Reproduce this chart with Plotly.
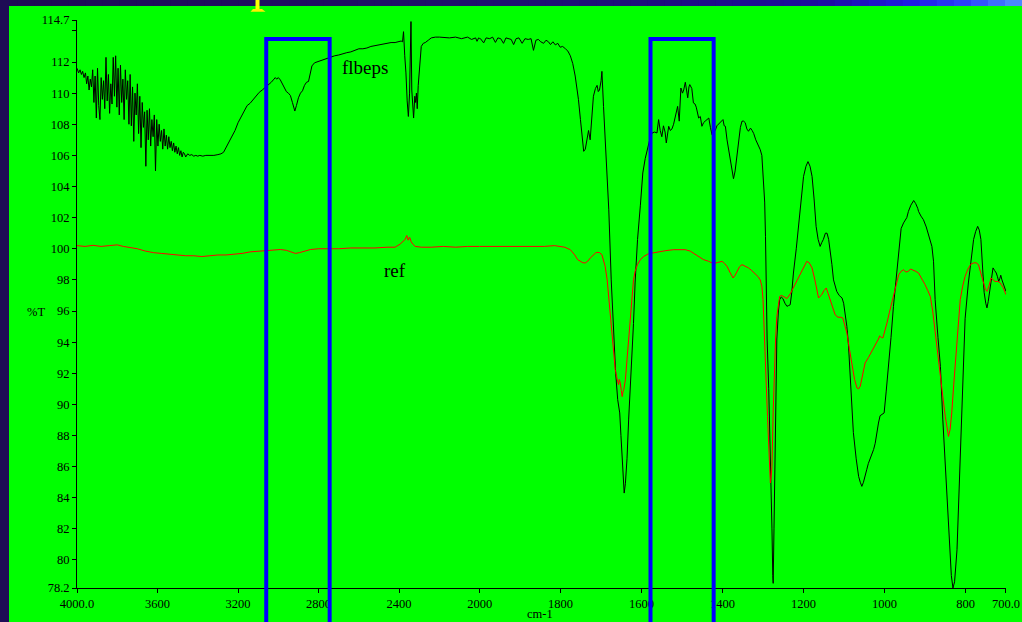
import numpy as np
import plotly.graph_objects as go

# ---------------- data ----------------
# flbeps spectrum, %T vs wavenumber (cm-1)
flbeps_wn_a = [4000, 3992, 3985, 3978, 3972, 3965, 3958, 3952, 3946, 3940,
               3934, 3928, 3922, 3916, 3910, 3904, 3898, 3892, 3886, 3880,
               3874, 3868, 3862, 3856, 3850, 3844, 3838, 3832, 3826, 3820,
               3814, 3808, 3802, 3796, 3790, 3784, 3778, 3772, 3766, 3760,
               3754, 3748, 3742, 3736, 3730, 3724, 3718, 3712, 3706, 3700,
               3694, 3688, 3682, 3676, 3670, 3664, 3658, 3652, 3646, 3640,
               3634, 3628, 3622, 3616, 3610, 3604, 3598, 3592, 3586, 3580,
               3574, 3568, 3562, 3556, 3550, 3544, 3538, 3532, 3526, 3520,
               3514, 3508, 3502, 3496, 3490, 3484, 3478, 3472, 3466, 3460]
flbeps_t_a = [111.6, 111.3, 111.5, 111.2, 111.4, 111.0, 111.3, 110.6, 111.1, 110.2,
              110.9, 110.4, 111.5, 109.4, 111.1, 108.4, 111.6, 109.2, 108.3, 111.0,
              109.6, 110.8, 109.0, 112.3, 109.5, 111.2, 108.7, 110.6, 109.3, 112.3,
              109.8, 112.4, 109.1, 111.6, 108.6, 111.8, 109.4, 110.9, 108.3, 111.5,
              109.6, 110.8, 108.0, 111.2, 107.9, 110.4, 106.9, 110.0, 108.6, 110.6,
              107.4, 109.8, 106.5, 109.4, 107.8, 108.8, 105.3, 108.9, 107.0, 109.0,
              106.6, 108.3, 107.2, 108.6, 105.0, 108.3, 106.6, 108.0, 106.9, 107.6,
              106.4, 107.7, 106.6, 107.3, 106.4, 107.2, 106.5, 106.9, 106.3, 106.8,
              106.2, 106.6, 106.1, 106.5, 106.0, 106.3, 105.9, 106.2, 106.1, 105.9]

flbeps_wn_b = [3450, 3440, 3430, 3420, 3410, 3400, 3390, 3375, 3360, 3340,
               3320, 3300, 3285, 3272, 3260, 3245, 3230, 3215, 3200, 3185,
               3170, 3155, 3140, 3125, 3110, 3095, 3080, 3065, 3050, 3035,
               3025, 3015, 3008, 3000, 2990, 2980, 2970, 2960, 2950, 2940,
               2930, 2918, 2910, 2900, 2890, 2880, 2870, 2860, 2850, 2842,
               2833, 2820, 2800, 2780, 2760, 2742, 2720, 2700, 2680, 2660,
               2640, 2620, 2600, 2580, 2560, 2540, 2520, 2500, 2480, 2460,
               2440, 2420, 2400, 2390, 2383, 2378, 2372, 2366, 2360, 2354,
               2348, 2344, 2341, 2337, 2333, 2328, 2322, 2318, 2314, 2310,
               2305, 2298, 2290, 2280, 2270, 2255, 2240, 2220]
flbeps_t_b = [106.1, 106.0, 106.05, 105.95, 106.0, 105.95, 106.0, 105.95, 106.0, 106.0,
              106.0, 106.05, 106.1, 106.2, 106.5, 106.9, 107.2, 107.6, 108.1, 108.5,
              108.9, 109.2, 109.35, 109.6, 109.85, 110.05, 110.2, 110.35, 110.55, 110.7,
              110.85, 111.0, 110.9, 111.0, 110.85, 110.6, 110.35, 110.1, 110.0, 109.85,
              109.4, 108.85, 109.2, 109.7, 110.0, 110.15, 110.5, 110.7, 110.75, 111.3,
              111.75, 111.95, 112.05, 112.15, 112.25, 112.3, 112.4, 112.45, 112.55, 112.6,
              112.65, 112.75, 112.85, 112.85, 112.9, 113.0, 113.05, 113.1, 113.15, 113.2,
              113.25, 113.25, 113.3, 113.35, 113.3, 113.95, 112.4, 111.3, 109.5, 108.5,
              110.0, 112.5, 114.6, 110.2, 109.4, 108.4, 109.8, 109.4, 110.0, 109.0,
              110.5, 112.0, 113.0, 113.2, 113.25, 113.4, 113.55, 113.6]

flbeps_wn_c = [2200, 2150, 2120, 2090, 2060, 2040, 2020, 2013, 2005, 1998,
               1990, 1984, 1975, 1968, 1961, 1955, 1948, 1941, 1935, 1928,
               1922, 1916, 1910, 1903, 1895, 1888, 1880, 1873, 1867, 1861,
               1855, 1849, 1842, 1836, 1830, 1825, 1819, 1813, 1807, 1801,
               1795, 1788, 1782, 1776, 1770, 1764, 1760, 1756, 1751, 1747,
               1743, 1739, 1735, 1731, 1727, 1723, 1719, 1714, 1710, 1707,
               1704, 1700, 1698, 1694, 1690, 1685, 1681, 1675, 1669, 1664,
               1659, 1656, 1654, 1651, 1648, 1645, 1643, 1640, 1636, 1632,
               1628, 1624, 1620, 1616, 1610, 1603, 1597, 1591, 1585, 1580,
               1574, 1568, 1562, 1558, 1554, 1550, 1546, 1542, 1539, 1536,
               1533, 1529, 1525, 1521, 1517, 1514, 1511, 1507, 1503, 1499,
               1496, 1492, 1489, 1486, 1483, 1481, 1476, 1472, 1468, 1465,
               1459, 1455, 1451, 1447, 1443, 1438, 1434, 1430, 1426, 1422,
               1418, 1414, 1410, 1405, 1399, 1396, 1393, 1389, 1385, 1380,
               1376, 1373, 1369, 1364, 1360, 1356, 1352, 1348, 1344, 1340,
               1336, 1331, 1327, 1323, 1318, 1311, 1307, 1303, 1299, 1296]
flbeps_t_c = [113.6, 113.55, 113.6, 113.5, 113.6, 113.45, 113.55, 113.33, 113.55, 113.5,
              113.23, 113.55, 113.5, 113.6, 113.26, 113.55, 113.5, 113.2, 113.55, 113.5,
              113.45, 113.12, 113.5, 113.55, 113.2, 113.5, 113.45, 113.5, 112.75, 113.4,
              113.45, 113.3, 113.2, 113.4, 113.3, 113.12, 113.3, 113.1, 113.2, 112.95,
              113.0, 112.85, 112.7, 112.4, 111.9, 111.1, 110.4, 109.6, 108.3, 107.0,
              106.26, 106.4, 106.9, 107.6, 107.0, 108.4, 109.8, 110.3, 110.5, 110.1,
              110.2, 110.8, 111.4, 109.15, 107.3, 105.1, 102.5, 98.0, 94.6, 92.0,
              90.3, 89.8, 89.45, 88.0, 86.45, 85.0, 84.3, 84.9, 86.5, 89.0,
              91.0, 92.4, 95.2, 97.8, 100.6, 102.8, 104.87, 105.8, 106.5, 107.0,
              107.44, 107.5, 107.44, 108.3, 107.6, 107.2, 107.9, 107.5, 106.8, 107.4,
              107.87, 107.6, 107.7, 108.0, 108.4, 108.7, 109.15, 108.2, 110.33, 110.0,
              110.2, 110.7, 110.3, 109.7, 110.4, 110.55, 110.3, 109.37, 109.3, 109.1,
              108.4, 108.5, 107.87, 108.1, 108.2, 108.3, 108.4, 107.8, 107.33, 107.7,
              107.6, 107.9, 108.0, 108.1, 108.3, 107.9, 107.87, 107.0, 106.37, 105.4,
              104.8, 104.5, 105.0, 106.1, 107.2, 107.8, 108.2, 108.2, 108.1, 107.7,
              107.55, 107.75, 107.6, 107.4, 107.0, 106.6, 106.37, 106.0, 104.6, 103.0]

flbeps_wn_d = [1294, 1290, 1286, 1283, 1280, 1278, 1276, 1275, 1273, 1270,
               1268, 1266, 1262, 1259, 1255, 1251, 1246, 1241, 1237, 1233,
               1229, 1225, 1218, 1212, 1206, 1200, 1194, 1189, 1184, 1179,
               1174, 1169, 1164, 1159, 1155, 1151, 1146, 1142, 1138, 1134,
               1130, 1126, 1122, 1118, 1112, 1105, 1101, 1097, 1093, 1089,
               1083, 1077, 1070, 1064, 1060, 1056, 1052, 1048, 1044, 1040,
               1035, 1030, 1027, 1023, 1019, 1015, 1011, 1005, 1001, 996,
               990, 984, 978, 972, 965, 959, 953, 949, 945, 941,
               935, 928, 923, 918, 916, 910, 904, 897, 891, 883,
               879, 875, 868, 862, 856, 850, 845, 839, 835, 831,
               827, 821, 817, 813, 809, 805, 801, 793, 788, 780,
               775, 770, 766, 762, 757, 754, 750, 747, 744, 741,
               736, 732, 728, 724, 721, 718, 715, 713, 710, 706,
               703, 700]
flbeps_t_d = [100.8, 94.2, 91.0, 88.0, 85.5, 82.0, 79.0, 78.5, 82.0, 88.2,
              91.5, 94.2, 96.0, 96.73, 96.9, 96.8, 96.5, 96.3, 96.35, 96.4,
              97.2, 98.44, 100.0, 101.66, 103.2, 104.65, 105.3, 105.6, 105.3, 104.65,
              103.2, 101.44, 100.6, 100.15, 100.4, 100.6, 101.0, 101.0, 100.6, 99.94,
              99.0, 98.0, 97.6, 97.26, 97.0, 96.84, 96.5, 95.87, 95.0, 93.8,
              91.0, 88.2, 86.5, 85.37, 85.0, 84.73, 85.0, 85.5, 85.8, 86.2,
              86.5, 86.8, 87.1, 87.5, 88.2, 88.8, 89.27, 89.4, 89.45, 90.8,
              92.44, 94.3, 96.3, 97.9, 99.94, 101.3, 101.66, 101.87, 102.0, 102.4,
              102.8, 103.1, 102.9, 102.6, 102.4, 102.1, 101.87, 101.4, 100.8, 100.15,
              99.2, 96.73, 94.3, 92.44, 89.0, 86.0, 83.3, 80.66, 79.0, 78.2,
              78.6, 80.66, 83.8, 87.1, 90.3, 93.6, 95.5, 97.8, 98.87, 100.6,
              101.1, 101.44, 101.2, 100.6, 98.44, 97.2, 96.5, 96.2, 96.6, 97.17,
              98.3, 98.77, 98.6, 98.44, 98.2, 97.9, 98.1, 98.3, 98.0, 97.7,
              97.5, 97.26]

# ref spectrum
ref_wn_a = [4000, 3960, 3920, 3880, 3840, 3800, 3770, 3740, 3700, 3660,
            3620, 3580, 3540, 3500, 3460, 3420, 3380, 3340, 3300, 3260,
            3220, 3180, 3140, 3100, 3060, 3020, 2990, 2960, 2935, 2915,
            2895, 2870, 2840, 2800, 2760, 2700, 2640, 2580, 2520, 2460,
            2420, 2395, 2380, 2370, 2362, 2355, 2348, 2340, 2332, 2320,
            2290, 2240, 2180, 2120, 2060, 2000, 1940, 1880, 1840, 1815]
ref_t_a = [100.2, 100.15, 100.22, 100.15, 100.2, 100.25, 100.15, 100.1, 100.0, 99.85,
           99.75, 99.7, 99.65, 99.6, 99.55, 99.55, 99.5, 99.55, 99.6, 99.6,
           99.65, 99.7, 99.8, 99.85, 99.9, 99.95, 99.95, 99.9, 99.8, 99.7,
           99.75, 99.85, 99.95, 100.0, 100.0, 100.0, 100.05, 100.05, 100.05, 100.1,
           100.1, 100.3, 100.5, 100.6, 100.85, 100.55, 100.75, 100.45, 100.3, 100.15,
           100.1, 100.1, 100.15, 100.1, 100.15, 100.15, 100.15, 100.15, 100.15, 100.2]

ref_wn_b = [1801, 1790, 1776, 1765, 1758, 1751, 1745, 1739, 1733, 1727,
            1720, 1714, 1710, 1704, 1698, 1694, 1690, 1685, 1681, 1677,
            1673, 1669, 1665, 1661, 1657, 1655, 1653, 1650, 1648, 1646,
            1644, 1640, 1636, 1632, 1628, 1624, 1620, 1616, 1610, 1603,
            1595, 1583, 1570, 1554, 1540, 1521, 1505, 1492, 1480, 1472,
            1460, 1447, 1435, 1422, 1412, 1401, 1395, 1389, 1382, 1378,
            1374, 1369, 1364, 1358, 1352, 1345, 1336, 1328, 1319, 1312,
            1307, 1303, 1300, 1297, 1295, 1292, 1289, 1285, 1282, 1280,
            1278, 1275, 1272, 1269, 1266, 1262, 1259, 1254, 1249, 1245,
            1241, 1233, 1225, 1216, 1208, 1200, 1192, 1186, 1179, 1172,
            1166, 1163, 1159, 1155, 1150, 1144, 1139, 1134, 1128, 1122,
            1115, 1108, 1103, 1098, 1093, 1087, 1080, 1074, 1068, 1064,
            1060, 1054, 1048, 1040, 1031, 1025, 1019, 1015, 1012, 1008,
            1004, 999, 994, 988, 982, 974, 965, 959, 953, 947,
            941, 936, 930, 923, 916, 908, 900, 893, 887, 881,
            875, 868, 862, 856, 850, 846, 842, 838, 834, 829,
            823, 818, 813, 807, 801, 794, 787, 780, 774, 768,
            762, 756, 751, 747, 742, 737, 732, 727, 720, 714,
            707, 700]
ref_t_b = [100.15, 100.1, 99.94, 99.6, 99.3, 99.19, 99.1, 99.09, 99.2, 99.4,
           99.6, 99.72, 99.77, 99.75, 99.62, 99.3, 98.87, 98.0, 96.73, 95.5,
           94.2, 93.1, 92.23, 91.7, 91.27, 91.6, 91.4, 90.9, 90.5, 90.8,
           90.94, 91.58, 92.9, 94.2, 95.8, 97.16, 98.0, 98.55, 99.0, 99.3,
           99.5, 99.68, 99.75, 99.83, 99.88, 99.94, 99.95, 99.94, 99.85, 99.73,
           99.5, 99.3, 99.2, 99.04, 99.12, 99.19, 99.05, 98.87, 98.5, 98.25,
           98.12, 98.3, 98.55, 98.85, 98.98, 98.9, 98.77, 98.6, 98.4, 98.2,
           98.0, 97.6, 96.73, 95.0, 93.53, 91.2, 89.23, 87.0, 84.95, 85.3,
           86.0, 89.5, 92.44, 94.2, 95.65, 96.5, 96.94, 97.0, 96.94, 96.9,
           96.8, 97.1, 97.5, 98.0, 98.44, 98.85, 99.19, 99.1, 98.77, 98.0,
           97.2, 96.84, 96.95, 97.05, 97.3, 97.48, 97.1, 96.73, 96.2, 95.76,
           95.6, 95.6, 95.55, 95.1, 94.59, 93.6, 92.44, 91.6, 91.05, 91.0,
           91.16, 91.9, 92.66, 93.0, 93.4, 93.7, 93.95, 94.2, 94.4, 94.3,
           94.27, 94.7, 95.23, 95.9, 96.5, 97.4, 98.33, 98.55, 98.65, 98.5,
           98.55, 98.7, 98.65, 98.55, 98.44, 98.1, 97.7, 97.3, 96.94, 96.0,
           94.59, 93.2, 91.8, 90.5, 89.23, 88.5, 87.94, 88.4, 89.45, 91.3,
           93.5, 95.2, 96.73, 97.6, 98.23, 98.7, 99.0, 99.09, 99.1, 98.98,
           98.4, 97.7, 97.4, 97.26, 97.6, 98.12, 98.0, 97.9, 97.9, 97.8,
           97.5, 97.05]

# axis ticks
x_ticks_hi = [4000, 3600, 3200, 2800, 2400]
x_text_hi = ["4000.0", "3600", "3200", "2800", "2400"]
x_ticks_lo = [2000, 1800, 1600, 1400, 1200, 1000, 800, 700]
x_text_lo = ["2000", "1800", "1600", "1400", "1200", "1000", "800", "700.0"]
y_ticks = [78.2, 80, 82, 84, 86, 88, 90, 92, 94, 96, 98, 100, 102, 104, 106,
           108, 110, 112, 114, 114.7]
y_text = ["78.2", "80", "82", "84", "86", "88", "90", "92", "94", "96", "98",
          "100", "102", "104", "106", "108", "110", "112", "", "114.7"]

# highlighted regions (cm-1)
box_left = (3060, 2745)
box_right = (1578, 1422)

# ---------------- figure ----------------
W, H = 1022, 622
ML, MR, MT, MB = 77, 16, 20, 34
PW, PH = W - ML - MR, H - MT - MB
SPLIT = 0.4334
FONT = "Liberation Serif"
TICK_SIZE = 12.5


def px(p):
    return (p - ML) / PW


def py(p):
    return (H - MB - p) / PH


def split(wn, t):
    wn = np.asarray(wn, float)
    t = np.asarray(t, float)
    i = int(np.argmax(wn < 2000))
    return (wn[:i + 1], t[:i + 1]), (wn[i - 1:], t[i - 1:])


flbeps_wn = flbeps_wn_a + flbeps_wn_b + flbeps_wn_c + flbeps_wn_d
flbeps_t = flbeps_t_a + flbeps_t_b + flbeps_t_c + flbeps_t_d
ref_wn = ref_wn_a + ref_wn_b
ref_t = ref_t_a + ref_t_b

fig = go.Figure()
for (wn, t, col) in [(flbeps_wn, flbeps_t, "#000000"), (ref_wn, ref_t, "#ff0000")]:
    (w1, t1), (w2, t2) = split(wn, t)
    fig.add_trace(go.Scatter(x=w1, y=t1, xaxis="x", yaxis="y", mode="lines",
                             line=dict(color=col, width=1), showlegend=False,
                             hoverinfo="skip"))
    fig.add_trace(go.Scatter(x=w2, y=t2, xaxis="x2", yaxis="y", mode="lines",
                             line=dict(color=col, width=1), showlegend=False,
                             hoverinfo="skip"))

axis_common = dict(showline=True, linecolor="black", linewidth=1, ticks="outside",
                   ticklen=4, tickwidth=1, tickcolor="black", showgrid=False,
                   zeroline=False, automargin=False,
                   tickfont=dict(family=FONT, size=TICK_SIZE, color="black"))

shapes = []
# green canvas
shapes.append(dict(type="rect", xref="paper", yref="paper", x0=px(9), x1=px(W + 5),
                   y0=py(H + 5), y1=py(6), fillcolor="#00ff00", line=dict(width=0),
                   layer="below"))
# top gradient strip
stops = [(0, (30, 12, 85)), (350, (32, 16, 100)), (650, (30, 16, 125)),
         (820, (28, 14, 160)), (910, (30, 28, 225)), (970, (45, 70, 255)),
         (1022, (80, 150, 255))]
n = 60
for k in range(n):
    a = W * k / n
    b = W * (k + 1) / n
    m = (a + b) / 2
    for j in range(len(stops) - 1):
        if stops[j][0] <= m <= stops[j + 1][0]:
            f = (m - stops[j][0]) / (stops[j + 1][0] - stops[j][0])
            c = [int(stops[j][1][q] + f * (stops[j + 1][1][q] - stops[j][1][q])) for q in range(3)]
            break
    shapes.append(dict(type="rect", xref="paper", yref="paper", x0=px(a), x1=px(b + 0.5),
                       y0=py(6), y1=py(-2), fillcolor="rgb(%d,%d,%d)" % tuple(c),
                       line=dict(width=0), layer="below"))
# yellow marker at top
shapes.append(dict(type="rect", xref="paper", yref="paper", x0=px(255.5), x1=px(259.5),
                   y0=py(9.5), y1=py(-2), fillcolor="#ffff00", line=dict(width=0)))
shapes.append(dict(type="path", xref="paper", yref="paper",
                   path="M %f %f L %f %f L %f %f L %f %f Z" % (
                       px(253), py(9), px(262), py(9), px(265.5), py(11.7), px(250.5), py(11.7)),
                   fillcolor="#ffee00", line=dict(width=0)))
# blue boxes
for (x0, x1), ref in [(box_left, "x"), (box_right, "x2")]:
    shapes.append(dict(type="rect", xref=ref, yref="paper", x0=x0, x1=x1,
                       y0=py(H + 10), y1=py(39), line=dict(color="#0000ff", width=4),
                       fillcolor="rgba(0,0,0,0)", layer="above"))

fig.update_layout(
    template="none",
    width=W, height=H, autosize=False,
    margin=dict(l=ML, r=MR, t=MT, b=MB, pad=0, autoexpand=False),
    paper_bgcolor="rgb(30,12,85)",
    plot_bgcolor="#00ff00",
    font=dict(family=FONT, size=12, color="black"),
    xaxis=dict(domain=[0, SPLIT], range=[4000, 2000], anchor="y",
               tickvals=x_ticks_hi, ticktext=x_text_hi, **axis_common),
    xaxis2=dict(domain=[SPLIT, 1], range=[2000, 700], anchor="y",
                tickvals=x_ticks_lo, ticktext=x_text_lo, **axis_common),
    yaxis=dict(domain=[0, 1], range=[78.2, 114.7], anchor="x",
               tickvals=y_ticks, ticktext=y_text, **axis_common),
    shapes=shapes,
    annotations=[
        dict(text="flbeps", x=2568, y=111.64, xref="x", yref="y", showarrow=False,
             xanchor="center", yanchor="middle",
             font=dict(family=FONT, size=19, color="black")),
        dict(text="ref", x=2419, y=98.59, xref="x", yref="y", showarrow=False,
             xanchor="center", yanchor="middle",
             font=dict(family=FONT, size=19, color="black")),
        dict(text="%T", x=px(36), y=py(312), xref="paper", yref="paper", showarrow=False,
             xanchor="center", yanchor="middle",
             font=dict(family=FONT, size=TICK_SIZE, color="black")),
        dict(text="cm-1", x=px(540), y=py(614), xref="paper", yref="paper",
             showarrow=False, xanchor="center", yanchor="middle",
             font=dict(family=FONT, size=TICK_SIZE, color="black")),
    ],
)

fig.write_html(
    "out.html",
    config={"displayModeBar": False},
    post_script="document.body.style.margin='0';document.body.style.padding='0';"
                "document.documentElement.style.overflow='hidden';",
)
